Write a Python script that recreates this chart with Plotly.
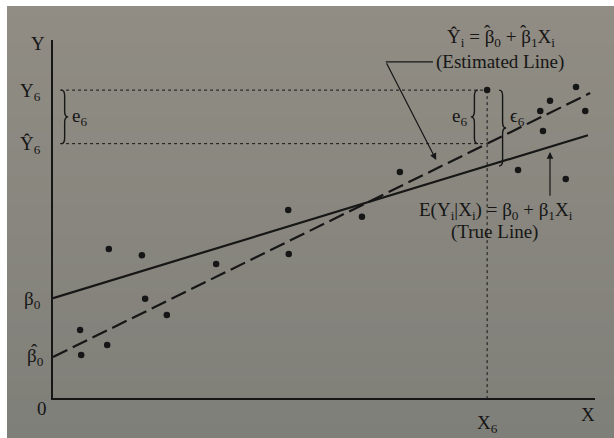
import plotly.graph_objects as go

# ---------------- data ----------------
obs_x = [0.50, 0.52, 1.00, 1.03, 1.64, 1.70, 2.10, 3.01, 4.34, 4.35,
         5.70, 6.40, 8.01, 8.58, 8.99, 9.17, 9.04, 9.46, 9.65, 9.82]
obs_y = [1.90, 1.20, 1.48, 4.16, 3.99, 2.77, 2.32, 3.74, 5.25, 4.02,
         5.06, 6.31, 8.60, 6.37, 8.02, 8.30, 7.46, 6.12, 8.69, 8.02]
i6 = 12                       # index of the 6th highlighted observation

beta0, beta1 = 2.79, 0.461    # true line
b0_hat, b1_hat = 1.145, 0.744 # estimated line
x_end_true = 9.87
x_end_est = 9.91

y_labels = ["Y<sub>6</sub>", "Ŷ<sub>6</sub>", "β<sub>0</sub>"]
x_labels = ["X<sub>6</sub>"]

# ---------------- derived ----------------
X6, Y6 = obs_x[i6], obs_y[i6]
Y6_hat = b0_hat + b1_hat * X6
EY6 = beta0 + beta1 * X6

INK = "#161616"
FONT = "Liberation Serif, Times New Roman, serif"
TOP_BG = (145, 141, 132)
BOT_BG = (127, 127, 121)
W, H = 614, 438
ML, MR, MT, MB = 53, 19, 40, 40
PW, PH = W - ML - MR, H - MT - MB

fig = go.Figure()

fig.add_trace(go.Scatter(x=[0, x_end_true], y=[beta0, beta0 + beta1 * x_end_true],
                         mode="lines", line=dict(color=INK, width=2.2),
                         hoverinfo="skip", showlegend=False))
fig.add_trace(go.Scatter(x=[0, x_end_est], y=[b0_hat, b0_hat + b1_hat * x_end_est],
                         mode="lines", line=dict(color=INK, width=2.2, dash="16px,6px"),
                         hoverinfo="skip", showlegend=False))
fig.add_trace(go.Scatter(x=obs_x, y=obs_y, mode="markers",
                         marker=dict(color=INK, size=6.5),
                         hoverinfo="skip", showlegend=False))

shapes = []
# soft vertical background gradient (photo of a printed page)
nb = 30
y_lo, y_hi = -MB / PH, 1 + MT / PH
for k in range(nb):
    t = (k + 0.5) / nb
    c = tuple(round(BOT_BG[j] + (TOP_BG[j] - BOT_BG[j]) * t) for j in range(3))
    shapes.append(dict(type="rect", xref="paper", yref="paper", layer="below",
                       x0=-ML / PW - 0.02, x1=1 + MR / PW + 0.02,
                       y0=y_lo + (y_hi - y_lo) * k / nb - 0.002,
                       y1=y_lo + (y_hi - y_lo) * (k + 1) / nb + 0.002,
                       fillcolor="rgb(%d,%d,%d)" % c, line=dict(width=0)))
# white photo border (top and left)
shapes.append(dict(type="rect", xref="paper", yref="paper", layer="above",
                   x0=-ML / PW - 0.05, x1=(7 - ML) / PW, y0=-0.3, y1=1.3,
                   fillcolor="white", line=dict(width=0)))
shapes.append(dict(type="rect", xref="paper", yref="paper", layer="above",
                   x0=-0.3, x1=1.3, y0=1 + (MT - 6) / PH, y1=1.3,
                   fillcolor="white", line=dict(width=0)))

dot = dict(color=INK, width=1, dash="dot")
x_dot_start = 0.13
shapes.append(dict(type="line", xref="x", yref="y", x0=x_dot_start, x1=X6, y0=Y6, y1=Y6, line=dot))
shapes.append(dict(type="line", xref="x", yref="y", x0=x_dot_start, x1=X6, y0=Y6_hat, y1=Y6_hat, line=dot))
shapes.append(dict(type="line", xref="x", yref="y", x0=X6, x1=X6, y0=Y6, y1=0, line=dot))


def brace(x0, yt, yb, w, r=0.16):
    xm = x0 + w / 2
    ym = (yt + yb) / 2
    p = (f"M {x0},{yt} Q {xm},{yt} {xm},{yt - r} L {xm},{ym + r} "
         f"Q {xm},{ym} {x0 + w},{ym} Q {xm},{ym} {xm},{ym - r} "
         f"L {xm},{yb + r} Q {xm},{yb} {x0},{yb}")
    return dict(type="path", xref="x", yref="y", path=p,
                line=dict(color=INK, width=1.4))


bw = 0.13
left_x0 = 0.15
mid_x0 = X6 - 0.17
right_x0 = X6 + 0.22
shapes.append(brace(left_x0, Y6, Y6_hat, bw))
shapes.append(brace(mid_x0, Y6, Y6_hat, -bw))
shapes.append(brace(right_x0, Y6, EY6, bw))

lead_y = 9.39
lead_x0, lead_x1 = 6.14, 7.01
shapes.append(dict(type="line", xref="x", yref="y", x0=lead_x0, x1=lead_x1,
                   y0=lead_y, y1=lead_y, line=dict(color=INK, width=1.2)))

fs = 19
f = dict(family=FONT, size=fs, color=INK)
ann = []


def hat(x, y, xshift, yshift):
    return dict(x=x, y=y, xref="x", yref="y", text="ˆ", showarrow=False,
                xshift=xshift, yshift=yshift, font=f)


ann.append(dict(x=0, y=10, xref="x", yref="y", text="Y", showarrow=False,
                xshift=-15, yshift=-3, font=f))
ann.append(dict(x=0, y=0, xref="x", yref="y", text="0", showarrow=False,
                xshift=-11, yshift=-10, font=f))
ann.append(dict(x=x_end_true, y=0, xref="x", yref="y", text="X", showarrow=False,
                yshift=-16, font=f))
# beta-hat-0 label on the y axis
ann.append(dict(x=0, y=b0_hat, xref="x", yref="y", text="β<sub>0</sub>",
                showarrow=False, xanchor="right", xshift=-7, font=f))
ann.append(hat(0, b0_hat, -18.5, 7))
# brace labels
ann.append(dict(x=left_x0 + bw + 0.04, y=(Y6 + Y6_hat) / 2, xref="x", yref="y",
                text="e<sub>6</sub>", showarrow=False, xanchor="left", font=f))
ann.append(dict(x=mid_x0 - bw - 0.04, y=(Y6 + Y6_hat) / 2, xref="x", yref="y",
                text="e<sub>6</sub>", showarrow=False, xanchor="right", font=f))
ann.append(dict(x=right_x0 + bw + 0.03, y=(Y6 + Y6_hat) / 2, xref="x", yref="y",
                text="ϵ<sub>6</sub>", showarrow=False, xanchor="left", font=f))
# estimated-line equation (hats on the betas drawn separately)
eq_x, eq_y = 7.23, 10
ann.append(dict(x=eq_x, y=eq_y, xref="x", yref="y", yshift=2, xanchor="left",
                text="Ŷ<sub>i</sub> = β<sub>0</sub> + β<sub>1</sub>X<sub>i</sub>",
                showarrow=False, font=f))
em = fs
ann.append(hat(eq_x, eq_y, 2.231 * em, 2 + 7))
ann.append(hat(eq_x, eq_y, 4.145 * em, 2 + 7))
ann.append(dict(x=lead_x1 + 0.02, y=lead_y, xref="x", yref="y",
                text="(Estimated Line)", showarrow=False, xanchor="left", font=f))
ann.append(dict(x=8.17, y=5.21, xref="x", yref="y",
                text="E(Y<sub>i</sub>|X<sub>i</sub>) = β<sub>0</sub> + β<sub>1</sub>X<sub>i</sub>",
                showarrow=False, font=f))
ann.append(dict(x=8.14, y=4.63, xref="x", yref="y",
                text="(True Line)", showarrow=False, font=f))
ann.append(dict(x=7.07, y=6.65, ax=lead_x0, ay=lead_y, xref="x", yref="y",
                axref="x", ayref="y", text="", showarrow=True, arrowhead=2,
                arrowsize=1.1, arrowwidth=1.2, arrowcolor=INK))
ann.append(dict(x=9.17, y=6.87, ax=9.17, ay=5.61, xref="x", yref="y",
                axref="x", ayref="y", text="", showarrow=True, arrowhead=2,
                arrowsize=1.1, arrowwidth=1.2, arrowcolor=INK))

fig.update_layout(
    width=W, height=H,
    margin=dict(l=ML, r=MR, t=MT, b=MB, autoexpand=False),
    paper_bgcolor="rgb(%d,%d,%d)" % BOT_BG, plot_bgcolor="rgba(0,0,0,0)",
    shapes=shapes, annotations=ann,
    showlegend=False,
    xaxis=dict(range=[0, 10], showgrid=False, zeroline=False, showline=True,
               automargin=False,
               linecolor=INK, linewidth=1.8, ticks="", tickvals=[X6],
               ticktext=x_labels, ticklabelstandoff=6, tickfont=f, fixedrange=True),
    yaxis=dict(range=[0, 10], showgrid=False, zeroline=False, showline=True,
               automargin=False,
               linecolor=INK, linewidth=1.8, ticks="",
               tickvals=[Y6, Y6_hat, beta0], ticktext=y_labels,
               ticklabelstandoff=7, tickfont=f, fixedrange=True),
)

fig.write_html("out.html", config={"displayModeBar": False},
               post_script="document.body.style.margin='0px';"
                           "document.body.style.overflow='hidden';")
